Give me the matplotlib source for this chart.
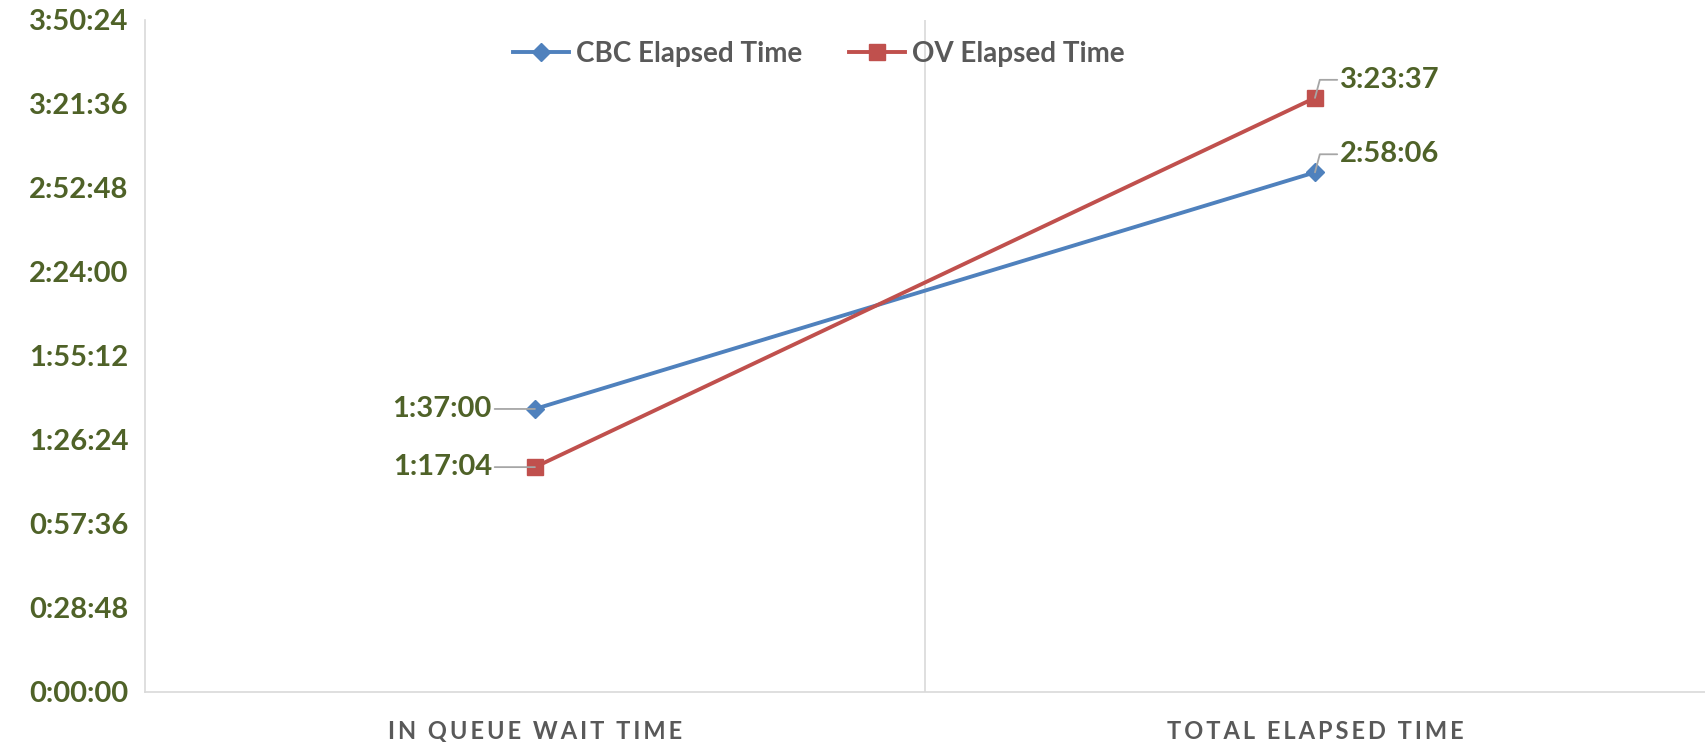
import matplotlib
matplotlib.use("Agg")
import matplotlib.pyplot as plt
from matplotlib.ticker import FuncFormatter, MultipleLocator

categories = ["IN QUEUE WAIT TIME", "TOTAL ELAPSED TIME"]
series_names = ["CBC Elapsed Time", "OV Elapsed Time"]
cbc_times = ["1:37:00", "2:58:06"]
ov_times = ["1:17:04", "3:23:37"]
y_max = "3:50:24"
y_step = "0:28:48"

GREEN = "#4F6228"
GREY_TEXT = "#595959"
AXIS_GREY = "#D9D9D9"


def to_sec(s):
    h, m, sec = map(int, s.split(":"))
    return h * 3600 + m * 60 + sec


def fmt_hms(v, pos=None):
    v = int(round(v))
    return f"{v // 3600}:{(v % 3600) // 60:02d}:{v % 60:02d}"


def spaced(text):
    return "\u2009".join(text)


plt.rcParams['font.family'] = ['Lato', 'DejaVu Sans']

fig = plt.figure(figsize=(17.05, 7.42), dpi=100)
ax = fig.add_axes([0.085, 0.0674, 0.915, 0.906])

xs = list(range(len(categories)))
cbc = [to_sec(t) for t in cbc_times]
ov = [to_sec(t) for t in ov_times]

ax.plot(xs, cbc, color="#4F81BD", lw=2.8, marker="D", markersize=9,
        label=series_names[0], zorder=3)
ax.plot(xs, ov, color="#C0504D", lw=2.8, marker="s", markersize=11,
        label=series_names[1], zorder=3)

ax.set_xlim(-0.5, 1.5)
ax.set_ylim(0, to_sec(y_max))
ax.yaxis.set_major_locator(MultipleLocator(to_sec(y_step)))
ax.yaxis.set_major_formatter(FuncFormatter(fmt_hms))
ax.set_xticks(xs)
ax.set_xticklabels([spaced(c) for c in categories])
ax.axvline(0.5, color=AXIS_GREY, lw=1.2, zorder=1)

for s in ["top", "right"]:
    ax.spines[s].set_visible(False)
for s in ["left", "bottom"]:
    ax.spines[s].set_color(AXIS_GREY)
    ax.spines[s].set_linewidth(1.2)

ax.tick_params(axis="y", length=0, pad=12, labelsize=21, labelcolor=GREEN)
ax.tick_params(axis="x", length=0, pad=20, labelsize=17, labelcolor=GREY_TEXT)
for lbl in ax.get_yticklabels():
    lbl.set_fontweight("bold")
for lbl in ax.get_xticklabels():
    lbl.set_fontweight("bold")

# data labels with leader lines
lead = dict(arrowstyle="-", color="#A6A6A6", lw=1.3, shrinkA=0, shrinkB=0)
for vals in (cbc, ov):
    ax.annotate(fmt_hms(vals[0]), xy=(xs[0], vals[0]), xytext=(-31, 0),
                textcoords="offset points", ha="right", va="center",
                fontsize=21, fontweight="bold", color=GREEN,
                arrowprops=dict(lead, relpos=(1.0, 0.5)))
    ax.annotate(fmt_hms(vals[1]), xy=(xs[1], vals[1]), xytext=(18, 13),
                textcoords="offset points", ha="left", va="center",
                fontsize=21, fontweight="bold", color=GREEN,
                arrowprops=dict(lead, relpos=(0.0, 0.5),
                                connectionstyle="angle,angleA=0,angleB=75,rad=0"))

leg = ax.legend(loc="center", bbox_to_anchor=(0.432, 0.949), ncol=2, frameon=False,
                fontsize=20, handlelength=2.0, columnspacing=1.7, handletextpad=0.25)
for t in leg.get_texts():
    t.set_color(GREY_TEXT)
    t.set_fontweight("bold")

fig.savefig("out.png", dpi=100)
